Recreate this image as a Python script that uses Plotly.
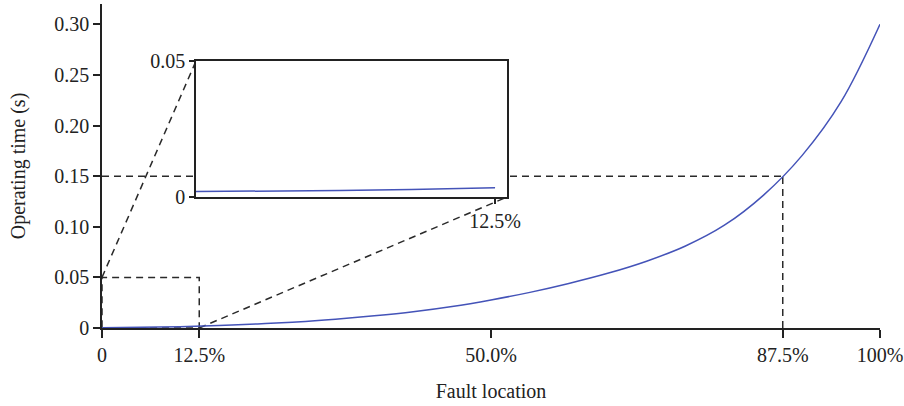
import plotly.graph_objects as go

# ---- data ----
fault_pct = [0, 5, 10, 15, 20, 25, 30, 35, 40, 45, 50, 55, 60, 65, 70, 75, 80, 85, 90, 95, 100]
op_time = [0.0003, 0.0007, 0.0013, 0.0024, 0.0040, 0.0060, 0.0087, 0.0120, 0.0160, 0.0212, 0.0277,
           0.0352, 0.0440, 0.0540, 0.0660, 0.0810, 0.1015, 0.1310, 0.1705, 0.2235, 0.3000]

inset_x = [0, 3, 6, 9, 12.5]
inset_y = [0.002, 0.0021, 0.0024, 0.0028, 0.0034]

x_tickvals = [0, 12.5, 50, 87.5, 100]
x_ticktext = ["0", "12.5%", "50.0%", "87.5%", "100%"]
y_tickvals = [0, 0.05, 0.10, 0.15, 0.20, 0.25, 0.30]
y_ticktext = ["0", "0.05", "0.10", "0.15", "0.20", "0.25", "0.30"]

inset_xtickvals = [12.5]
inset_xticktext = ["12.5%"]
inset_ytickvals = [0, 0.05]
inset_yticktext = ["0", "0.05"]

zoom_box_x = [0, 12.5]
zoom_box_y = [0, 0.05]
marker_point = [87.5, 0.15]

# ---- layout parameters ----
main_xrange = [0, 100]
main_yrange = [0, 0.32]
inset_xrange = [0, 13]
inset_yrange = [0, 0.05]
inset_xdomain = [0.1208, 0.5206]
inset_ydomain = [0.4043, 0.8240]

FONT = "Liberation Serif"
AXC = "#222222"
CURVE = "#4453B8"
DASH = dict(color="#2a2a2a", width=1.5, dash="7px,5px")
FS = 20


def paper_to_x(p):
    return main_xrange[0] + p * (main_xrange[1] - main_xrange[0])


def paper_to_y(p):
    return main_yrange[0] + p * (main_yrange[1] - main_yrange[0])


fig = go.Figure()
fig.add_trace(go.Scatter(x=fault_pct, y=op_time, mode="lines",
                         line=dict(color=CURVE, width=1.5, shape="spline", smoothing=1.0),
                         xaxis="x", yaxis="y", showlegend=False, hoverinfo="skip"))
fig.add_trace(go.Scatter(x=inset_x, y=inset_y, mode="lines", line=dict(color=CURVE, width=1.5),
                         xaxis="x2", yaxis="y2", showlegend=False, hoverinfo="skip"))

shapes = [
    dict(type="rect", xref="x", yref="y", x0=zoom_box_x[0], x1=zoom_box_x[1], y0=zoom_box_y[0], y1=zoom_box_y[1],
         line=DASH, layer="below"),
    dict(type="line", xref="x", yref="y", x0=zoom_box_x[0], y0=zoom_box_y[1],
         x1=paper_to_x(inset_xdomain[0]), y1=paper_to_y(inset_ydomain[1]), line=DASH, layer="below"),
    dict(type="line", xref="x", yref="y", x0=zoom_box_x[1], y0=zoom_box_y[0],
         x1=paper_to_x(inset_xdomain[1]), y1=paper_to_y(inset_ydomain[0]), line=DASH, layer="below"),
    dict(type="line", xref="x", yref="y", x0=main_xrange[0], y0=marker_point[1],
         x1=marker_point[0], y1=marker_point[1], line=DASH, layer="below"),
    dict(type="line", xref="x", yref="y", x0=marker_point[0], y0=main_yrange[0],
         x1=marker_point[0], y1=marker_point[1], line=DASH, layer="below"),
]

tickfont = dict(family=FONT, size=FS, color=AXC)
common = dict(showline=True, linecolor=AXC, linewidth=1.5, ticks="outside", tickwidth=1.5,
              tickcolor=AXC, showgrid=False, zeroline=False, tickfont=tickfont, automargin=False)

fig.update_layout(
    width=904, height=406,
    margin=dict(l=102, r=24, t=4, b=78, autoexpand=False),
    paper_bgcolor="white", plot_bgcolor="white",
    font=dict(family=FONT, size=FS, color=AXC),
    shapes=shapes,
    xaxis=dict(range=main_xrange, domain=[0, 1], tickvals=x_tickvals, ticktext=x_ticktext, ticklen=8,
               title=dict(text="Fault location", font=dict(family=FONT, size=FS, color=AXC), standoff=19),
               **common),
    yaxis=dict(range=main_yrange, domain=[0, 1], tickvals=y_tickvals, ticktext=y_ticktext, ticklen=7,
               title=dict(text="Operating time (s)", font=dict(family=FONT, size=FS, color=AXC), standoff=23),
               **common),
    xaxis2=dict(range=inset_xrange, domain=inset_xdomain, anchor="y2", tickvals=inset_xtickvals,
                ticktext=inset_xticktext, mirror=True, ticklen=5, **common),
    yaxis2=dict(range=inset_yrange, domain=inset_ydomain, anchor="x2", tickvals=inset_ytickvals,
                ticktext=inset_yticktext, mirror=True, ticklen=5, **common),
)

fig.write_html("out.html")
